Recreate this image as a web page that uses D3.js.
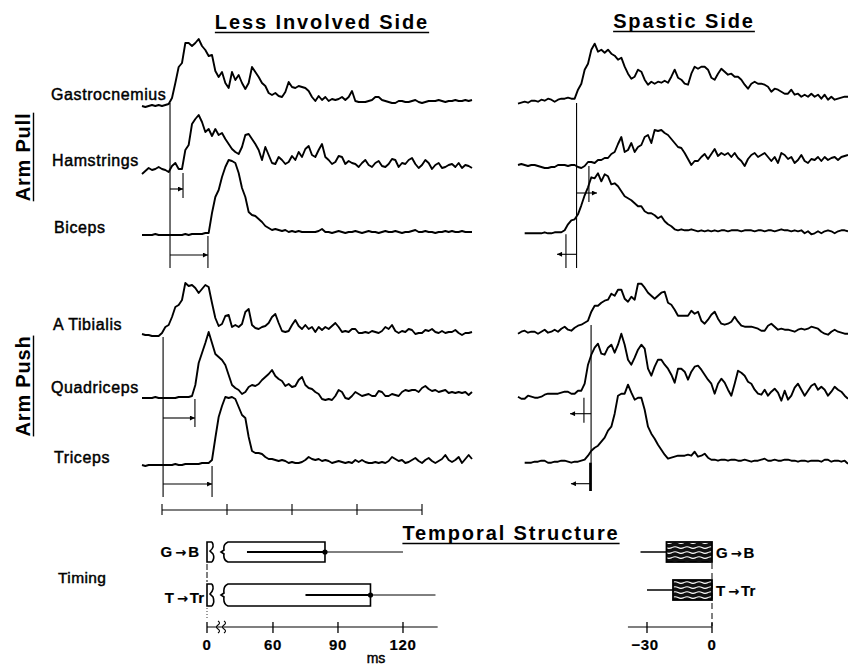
<!DOCTYPE html>
<html>
<head>
<meta charset="utf-8">
<script src="https://cdn.jsdelivr.net/npm/d3@7"></script>
<style>
body { margin: 0; background: #fff; }
svg { display: block; }
text { font-family: "Liberation Sans", Arial, Helvetica, sans-serif; fill: #000; }
</style>
</head>
<body>
<svg id="chart" width="848" height="667"></svg>
<script>
'use strict';

// EMG envelopes, one sample every 1000/650 ms, amplitude above resting level
var dt = 1000 / 650;
var traceStart = -9.23;   // ms of the first sample

var lessGastroc = [-2,-3,-2,-1,-2,-1,-2,-1,0,6,21,37,41,61,61,58,61,65,58,54,48,49,33,27,32,21,16,32,24,29,21,15,21,37,32,27,21,18,11,9,11,8,7,12,22,17,16,18,17,16,13,7,3,8,4,7,3,5,4,5,7,4,7,13,3,2,2,2,3,4,7,7,4,3,2,1,1,3,3,2,2,3,4,2,1,2,3,3,3,4,3,2,3,3,4,3,3,4,3,4];
var lessHam = [-2,1,4,2,3,5,3,2,0,6,9,3,3,22,27,48,53,57,50,40,43,36,43,37,39,33,28,23,20,18,25,37,38,33,28,22,12,25,17,9,8,15,12,8,10,16,12,20,15,23,26,17,15,22,28,15,12,8,10,16,15,8,11,9,8,5,9,12,7,5,9,11,6,5,8,13,12,5,9,8,12,14,8,4,7,12,9,3,7,9,4,5,7,8,5,9,4,7,6,4];
var lessBic = [0,0,0,0,1,0,0,0,0,0,0,0,0,1,0,1,1,1,1,2,2,22,38,45,58,68,75,74,72,62,47,38,23,20,19,16,13,9,7,5,6,5,4,5,3,4,3,4,3,3,3,3,3,4,6,3,3,2,3,4,3,2,3,3,4,3,2,3,4,3,3,2,3,4,3,3,4,3,2,3,3,4,5,3,3,4,3,3,2,3,3,4,3,4,3,3,4,3,3,3];
var lessTib = [1,0,0,-1,-1,-1,2,8,10,18,28,30,35,52,49,50,47,42,46,50,48,32,17,9,11,19,20,8,10,8,11,23,26,10,7,6,8,9,12,18,21,12,4,3,4,10,15,9,6,10,6,8,3,8,5,8,6,9,12,8,3,4,3,6,6,2,2,3,2,4,3,2,4,8,6,10,4,2,4,3,6,5,1,2,2,5,4,6,3,2,4,2,3,3,5,2,0,2,2,3];
var lessQuad = [0,0,0,0,1,0,0,0,0,0,0,1,1,1,1,2,13,35,45,55,66,55,44,41,38,33,23,13,10,8,4,6,11,13,12,14,18,21,24,28,22,19,17,12,14,11,12,18,21,13,10,9,6,4,-1,-2,-1,-2,2,8,6,0,-1,2,6,4,2,3,4,2,2,7,6,2,2,4,3,2,6,8,7,8,8,6,10,12,9,7,8,6,7,8,5,6,5,6,5,6,3,6];
var lessTri = [0,-1,0,0,0,0,0,0,0,0,1,0,0,1,1,1,1,1,2,2,2,5,27,48,59,68,67,68,66,58,50,47,28,14,12,12,11,8,6,6,5,4,5,4,2,3,2,2,3,5,8,6,5,6,4,5,4,2,3,4,3,2,3,2,5,3,5,3,2,2,3,2,3,2,4,8,6,4,5,2,3,5,7,4,2,5,7,4,2,4,6,10,5,3,5,8,2,6,10,6];

var spasGastroc = [-2,-1,0,-1,1,1,0,2,1,3,2,0,2,3,3,4,3,3,12,18,32,38,52,58,50,52,49,52,48,46,42,44,35,28,23,25,32,30,22,17,20,18,20,19,21,19,25,32,24,22,18,17,28,35,33,35,35,32,24,22,28,33,30,27,28,25,25,22,17,13,18,20,18,18,17,15,10,13,12,10,8,8,12,7,8,5,7,5,8,5,7,3,7,2,5,2,3,4,5,5];
var spasHam = [0,1,0,-1,0,0,-1,-2,-3,-3,-2,-2,0,0,0,-1,0,0,-2,-3,-1,3,3,2,5,5,7,7,11,13,21,28,13,15,22,13,18,20,28,30,22,35,34,35,32,30,26,22,18,17,12,6,0,4,4,8,11,6,11,16,9,12,10,12,8,12,7,4,-1,6,10,12,8,10,12,8,4,8,2,12,10,6,8,2,5,10,4,2,6,5,8,4,8,5,7,8,5,8,9,10];
var spasBic = [0,0,0,0,0,0,1,0,0,1,1,1,3,9,13,14,19,28,38,46,56,55,60,52,59,57,49,50,47,42,37,35,33,30,27,27,22,20,20,18,15,17,12,9,7,4,3,4,3,3,4,3,2,3,2,3,2,3,2,3,3,2,3,3,3,2,3,3,3,2,3,3,2,3,3,2,3,4,3,3,2,3,2,3,0,2,-1,0,2,0,2,3,2,0,2,3,3,2];
var spasTib = [-1,1,2,0,1,1,-1,1,3,0,1,3,1,4,6,3,2,5,7,8,10,12,21,27,27,30,32,33,39,37,43,43,34,31,36,33,49,49,45,40,37,34,37,40,41,30,28,23,17,17,17,17,22,19,21,12,9,13,18,21,14,9,8,9,11,16,11,7,6,6,6,5,4,2,2,7,9,6,3,4,3,3,2,1,3,4,3,4,6,5,4,1,-1,-2,1,3,1,0,-1,-1];
var spasQuad = [0,-2,-2,1,0,-1,-1,0,2,3,3,3,3,4,5,5,3,3,6,6,13,32,42,49,53,43,42,49,52,44,52,63,52,37,32,39,47,52,48,28,21,30,37,37,32,28,22,14,28,28,25,17,25,30,31,27,22,17,13,3,13,18,14,7,1,13,26,24,21,15,13,7,3,2,7,1,5,8,4,-4,6,-3,1,9,13,7,1,6,11,13,7,10,7,1,5,10,7,5,1,-2];
var spasTri = [0,0,0,1,1,2,2,0,0,1,1,2,2,1,0,1,1,2,3,7,12,15,17,21,25,32,36,49,67,69,69,78,70,63,65,65,53,36,29,24,18,13,8,4,5,6,7,7,7,8,7,11,6,7,9,5,3,3,2,3,3,2,3,3,2,2,3,2,1,2,2,3,4,2,2,3,2,2,3,3,2,2,1,2,2,1,2,2,2,1,3,3,1,2,2,1,2,-1];

var pullMuscles = ['Gastrocnemius', 'Hamstrings', 'Biceps'];
var pushMuscles = ['A Tibialis', 'Quadriceps', 'Triceps'];

// onset of the first muscle, then of the second and third (ms)
var lessPullOnsets = [3.7, 9.7, 21.2];
var lessPushOnsets = [0.5, 15.2, 23.1];
var spasPullOnsets = [17.8, 23.5, 12.9];
var spasPushOnsets = [24.5, 21.2, 24.2];
// where the latency arrows point to (ms)
var lessPullTips = [9.7, 21.2];
var lessPushTips = [15.2, 23.1];
var spasPullTips = [27.2, 8.8];
var spasPushTips = [14.8, 15.2];

var rulerTicks = [0, 30, 60, 90, 120];

// temporal structure: mean latency and SD (ms)
var timingFrom = ['G', 'T'];
var timingTo = ['B', 'Tr'];
var lessMean = [84, 105];
var lessSD = [36, 30];
var spasMean = [-21, -18];
var spasSD = [12, 12];
var lessTicks = [0, 60, 90, 120];
var spasTicks = [-30, 0];

var svg = d3.select('#chart');
var defs = svg.append('defs');

defs.append('marker')
    .attr('id', 'head')
    .attr('viewBox', '0 0 10 10')
    .attr('refX', 10).attr('refY', 5)
    .attr('markerWidth', 7).attr('markerHeight', 5)
    .attr('markerUnits', 'userSpaceOnUse')
    .attr('orient', 'auto')
  .append('path').attr('d', 'M0,0L10,5L0,10z');

var pat = defs.append('pattern')
    .attr('id', 'waves')
    .attr('patternUnits', 'userSpaceOnUse')
    .attr('width', 12).attr('height', 5);
pat.append('rect').attr('width', 12).attr('height', 5).attr('fill', '#111');
pat.append('path')
    .attr('d', 'M0,2.6 Q3,1 6,2.6 T12,2.6')
    .attr('fill', 'none').attr('stroke', '#fff').attr('stroke-width', 1.1);

var leftX = d3.scaleLinear().domain([0, 120]).range([162, 422]);
var rightX = d3.scaleLinear().domain([0, 120]).range([538, 798]);

var blocks = [
    {x: leftX, bases: [104, 172, 235], data: [lessGastroc, lessHam, lessBic], skip: [0, 0, 0],
     onsets: lessPullOnsets, tips: lessPullTips, arrowDy: [17, 20], top: 103, bottom: 268},
    {x: leftX, bases: [335, 398, 465], data: [lessTib, lessQuad, lessTri], skip: [0, 0, 0],
     onsets: lessPushOnsets, tips: lessPushTips, arrowDy: [20, 19], top: 337, bottom: 497},
    {x: rightX, bases: [101.7, 165, 233.3], data: [spasGastroc, spasHam, spasBic], skip: [0, 0, 2],
     onsets: spasPullOnsets, tips: spasPullTips, arrowDy: [28, 21], top: 103, bottom: 268},
    {x: rightX, bases: [332.7, 396.7, 462.7], data: [spasTib, spasQuad, spasTri], skip: [0, 0, 2],
     onsets: spasPushOnsets, tips: spasPushTips, arrowDy: [17, 21], top: 325, bottom: 491}
];

var g = svg.append('g');

blocks.forEach(function(b) {
    b.data.forEach(function(values, k) {
        var y = d3.scaleLinear().domain([0, 80]).range([b.bases[k], b.bases[k] - 80]);
        var t0 = traceStart + b.skip[k] * dt;
        var line = d3.line()
            .x(function(d, i) { return b.x(t0 + i * dt); })
            .y(function(d) { return y(d); });
        g.append('path')
            .attr('d', line(values))
            .attr('fill', 'none')
            .attr('stroke', '#000')
            .attr('stroke-width', 1.9)
            .attr('stroke-linejoin', 'round');
    });

    // onset line of the first muscle
    g.append('line')
        .attr('x1', b.x(b.onsets[0])).attr('x2', b.x(b.onsets[0]))
        .attr('y1', b.top).attr('y2', b.bottom)
        .attr('stroke', '#000').attr('stroke-width', 1.1);

    [1, 2].forEach(function(k) {
        var ay = b.bases[k] + b.arrowDy[k - 1];
        var mx = b.x(b.onsets[k]);
        var same = Math.abs(b.onsets[k] - b.onsets[0]) < 1;
        g.append('line')
            .attr('x1', mx).attr('x2', mx)
            .attr('y1', same ? b.bases[k] : b.bases[k] + 1)
            .attr('y2', k == 2 ? b.bottom : ay + 9)
            .attr('stroke', '#000').attr('stroke-width', same ? 2.6 : 1.1);
        g.append('line')
            .attr('x1', b.x(b.onsets[0])).attr('x2', b.x(b.tips[k - 1]))
            .attr('y1', ay).attr('y2', ay)
            .attr('stroke', '#000').attr('stroke-width', 1.1)
            .attr('marker-end', 'url(#head)');
    });
});

// time ruler
g.append('line')
    .attr('x1', leftX(rulerTicks[0])).attr('x2', leftX(rulerTicks[rulerTicks.length - 1]))
    .attr('y1', 510).attr('y2', 510)
    .attr('stroke', '#000').attr('stroke-width', 1.1);
g.selectAll('.rtick').data(rulerTicks).enter().append('line')
    .attr('x1', function(d) { return leftX(d); }).attr('x2', function(d) { return leftX(d); })
    .attr('y1', 504).attr('y2', 515)
    .attr('stroke', '#000').attr('stroke-width', 1.1);

// labels
function label(x, y, str, size, opts) {
    opts = opts || {};
    return svg.append('text')
        .attr('x', x).attr('y', y)
        .attr('font-size', size)
        .attr('font-weight', opts.bold ? 'bold' : 'normal')
        .attr('letter-spacing', opts.spacing || 0)
        .attr('text-anchor', opts.anchor || 'start')
        .attr('stroke', '#000')
        .attr('stroke-width', opts.bold ? 0.2 : 0.45)
        .text(str);
}

function heading(x, y, str, rotate) {
    var hg = svg.append('g').attr('transform', 'translate(' + x + ',' + y + ')' + (rotate ? ' rotate(-90)' : ''));
    var t = hg.append('text')
        .attr('text-anchor', 'middle')
        .attr('font-size', 20)
        .attr('font-weight', 'bold')
        .attr('letter-spacing', rotate ? 0.8 : 1.9)
        .text(str);
    var w = t.node().getComputedTextLength();
    hg.append('line')
        .attr('x1', -w / 2).attr('x2', w / 2)
        .attr('y1', 3.5).attr('y2', 3.5)
        .attr('stroke', '#000').attr('stroke-width', 1.4);
}

function timingLabel(x, y, r, anchor) {
    var t = label(x, y, null, 15, {anchor: anchor, bold: true});
    t.append('tspan').text(timingFrom[r]);
    t.append('tspan')
        .attr('font-family', 'DejaVu Sans')
        .attr('font-size', 13)
        .attr('dx', 3)
        .text('\u2192');
    t.append('tspan').attr('dx', 2).text(timingTo[r]);
}

heading(322, 29, 'Less Involved Side');
heading(684, 28, 'Spastic Side');
heading(30, 157, 'Arm Pull', true);
heading(30, 386, 'Arm Push', true);
heading(511, 540, 'Temporal Structure');

var labelPos = [[51, 100], [52, 166], [54, 233], [53, 330], [51, 393], [54, 463]];
pullMuscles.concat(pushMuscles).forEach(function(m, i) {
    label(labelPos[i][0], labelPos[i][1], m, 16, {spacing: 0.6});
});

label(58, 583, 'Timing', 15.5, {spacing: 0.4});

// temporal structure, less involved side (broken axis below 38 ms)
var lx = d3.scaleLinear().domain([0, 38, 150]).range([207, 225.3, 468]);
var lessRows = [[542, 562], [584, 606]];
var lessLabelX = [199, 204];

lessMean.forEach(function(m, r) {
    var y0 = lessRows[r][0], y1 = lessRows[r][1], mid = (y0 + y1) / 2;
    var x0 = lx(0), xb = x0 + 21, xm = lx(m);
    g.append('path')
        .attr('d', 'M' + (x0 + 5) + ',' + y0 + 'H' + x0 + 'V' + y1 + 'H' + (x0 + 5))
        .attr('fill', 'none').attr('stroke', '#000').attr('stroke-width', 1.6);
    g.append('path')
        .attr('d', 'M' + (x0 + 5) + ',' + y0 + 'Q' + (x0 + 8) + ',' + (y0 + 5) + ' ' + (x0 + 3) + ',' + (mid - 1) +
              'L' + (x0 + 6) + ',' + (mid + 2) + 'Q' + (x0 + 8) + ',' + (y1 - 4) + ' ' + (x0 + 5) + ',' + y1)
        .attr('fill', 'none').attr('stroke', '#000').attr('stroke-width', 1.6);
    g.append('path')
        .attr('d', 'M' + xb + ',' + y0 + 'H' + xm + 'V' + y1 + 'H' + xb +
              'Q' + (xb - 5) + ',' + (y1 - 2) + ' ' + (xb - 4) + ',' + (mid + 2) +
              'L' + (xb - 7) + ',' + mid + 'L' + (xb - 4) + ',' + (mid - 2) +
              'Q' + (xb - 5) + ',' + (y0 + 2) + ' ' + xb + ',' + y0 + 'Z')
        .attr('fill', '#fff').attr('stroke', '#000').attr('stroke-width', 1.6);
    g.append('line')
        .attr('x1', lx(m - lessSD[r])).attr('x2', xm)
        .attr('y1', mid).attr('y2', mid)
        .attr('stroke', '#000').attr('stroke-width', 1.8);
    g.append('line')
        .attr('x1', xm).attr('x2', lx(m + lessSD[r]))
        .attr('y1', mid).attr('y2', mid)
        .attr('stroke', '#000').attr('stroke-width', 1);
    g.append('circle').attr('cx', xm).attr('cy', mid).attr('r', 2.6);
    timingLabel(lessLabelX[r], r == 0 ? 557 : 603, r, 'end');
});

g.append('line')
    .attr('x1', lx(0)).attr('x2', lx(0)).attr('y1', 564).attr('y2', 582)
    .attr('stroke', '#000').attr('stroke-width', 1).attr('stroke-dasharray', '6,2');
g.append('line')
    .attr('x1', lx(0)).attr('x2', lx(0)).attr('y1', 608).attr('y2', 620)
    .attr('stroke', '#000').attr('stroke-width', 0.8).attr('stroke-dasharray', '1,2');

var axisY = 627;
g.append('line')
    .attr('x1', lx(0)).attr('x2', lx(136)).attr('y1', axisY).attr('y2', axisY)
    .attr('stroke', '#000').attr('stroke-width', 1.1);
g.selectAll('.ltick').data(lessTicks).enter().append('line')
    .attr('x1', function(d) { return lx(d); }).attr('x2', function(d) { return lx(d); })
    .attr('y1', axisY - 5).attr('y2', axisY + 6)
    .attr('stroke', '#000').attr('stroke-width', 1.3);
[218, 224].forEach(function(bx) {
    g.append('path')
        .attr('d', 'M' + bx + ',' + (axisY - 6) + 'q3,2 0,4 q-3,2 0,4 q3,2 0,4')
        .attr('fill', 'none').attr('stroke', '#000').attr('stroke-width', 1.1);
});
lessTicks.forEach(function(d) {
    label(lx(d), 650, String(d), 15, {anchor: 'middle', spacing: 0.6, bold: true});
});
label(376, 663, 'ms', 14, {anchor: 'middle'});

// temporal structure, spastic side
var sx = d3.scaleLinear().domain([-30, 0]).range([647, 712]);
var spasRows = [[542, 562], [580, 600]];
spasMean.forEach(function(m, r) {
    var y0 = spasRows[r][0], y1 = spasRows[r][1], mid = (y0 + y1) / 2;
    g.append('line')
        .attr('x1', sx(m - spasSD[r])).attr('x2', sx(m))
        .attr('y1', mid).attr('y2', mid)
        .attr('stroke', '#000').attr('stroke-width', 1.5);
    g.append('rect')
        .attr('x', sx(m)).attr('y', y0)
        .attr('width', sx(0) - sx(m)).attr('height', y1 - y0)
        .attr('fill', 'url(#waves)')
        .attr('stroke', '#000').attr('stroke-width', 1.8);
    timingLabel(sx(0) + 4, r == 0 ? 558 : 596, r, 'start');
});
g.append('line')
    .attr('x1', sx(0)).attr('x2', sx(0)).attr('y1', 563).attr('y2', 626)
    .attr('stroke', '#000').attr('stroke-width', 1).attr('stroke-dasharray', '6,4');
g.append('line')
    .attr('x1', sx(-38.8)).attr('x2', sx(0)).attr('y1', axisY).attr('y2', axisY)
    .attr('stroke', '#000').attr('stroke-width', 1.1);
g.selectAll('.stick').data(spasTicks).enter().append('line')
    .attr('x1', function(d) { return sx(d); }).attr('x2', function(d) { return sx(d); })
    .attr('y1', axisY - 5).attr('y2', axisY + 6)
    .attr('stroke', '#000').attr('stroke-width', 1.3);
spasTicks.forEach(function(d) {
    label(sx(d) - (d < 0 ? 2 : 0), 650, d < 0 ? '\u2212' + Math.abs(d) : String(d), 15, {anchor: 'middle', spacing: 0.6, bold: true});
});
</script>
</body>
</html>
